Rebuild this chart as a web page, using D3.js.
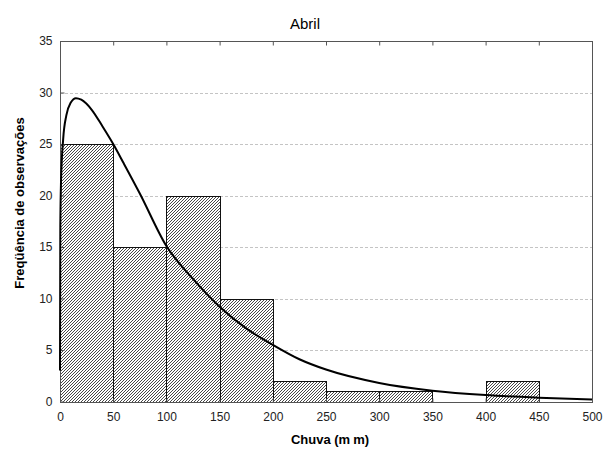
<!DOCTYPE html>
<html>
<head>
<meta charset="utf-8">
<script src="https://cdn.jsdelivr.net/npm/d3@7"></script>
<style>
  html, body { margin: 0; padding: 0; background: #fff; }
  svg { display: block; font-family: "Liberation Sans", Arial, sans-serif; }
</style>
</head>
<body>
<svg id="chart" width="605" height="449"></svg>
<script>
// Histogram bins (mm of rain) and observed counts
const binStarts = [0, 50, 100, 150, 200, 250, 300, 350, 400, 450];
const binWidth = 50;
const counts = [25, 15, 20, 10, 2, 1, 1, 0, 2, 0];

// Fitted distribution curve (expected frequency per bin)
const curveX = [0, 0.3, 1, 3, 6, 10, 15, 20, 30, 40, 50, 60, 75, 100, 125, 150, 175, 200, 225, 250, 300, 350, 400, 450, 500];
const curveY = [3, 17, 21.5, 25.5, 27.8, 29.0, 29.45, 29.3, 28.3, 26.7, 25.0, 23.1, 20.2, 15.1, 11.9, 9.2, 7.1, 5.5, 4.1, 3.1, 1.8, 1.05, 0.62, 0.37, 0.2];

// Axis ticks
const xTicks = [0, 50, 100, 150, 200, 250, 300, 350, 400, 450, 500];
const yTicks = [0, 5, 10, 15, 20, 25, 30, 35];

const titleText = "Abril";
const xLabelParts = ["Chuva (m", "m)"];
const yLabel = "Freqüência de observações";

const svg = d3.select("#chart");
const plotL = 60, plotR = 592, plotT = 41, plotB = 401.5;

const x = d3.scaleLinear().domain([0, 500]).range([plotL, plotR]);
const y = d3.scaleLinear().domain([0, 35]).range([plotB, plotT]);

// Horizontal dotted grid
svg.append("g")
  .selectAll("line")
  .data(yTicks.filter(d => d > 0 && d < 35))
  .join("line")
  .attr("x1", plotL).attr("x2", plotR)
  .attr("y1", d => Math.round(y(d)) + 0.5)
  .attr("y2", d => Math.round(y(d)) + 0.5)
  .attr("stroke", "#c4c4c4")
  .attr("stroke-dasharray", "3,2")
  .attr("stroke-width", 1);

// Bars: white box, "/" hatch lines clipped to the box, then outline
const bins = binStarts.map((s, i) => ({ i, x0: s, x1: s + binWidth, n: counts[i] }))
  .filter(d => d.n > 0)
  .map(d => {
    const bx = Math.round(x(d.x0)) + 0.5, by = Math.round(y(d.n)) + 0.5;
    const bw = Math.round(x(d.x1)) - Math.round(x(d.x0));
    const bh = Math.round(y(0)) - Math.round(y(d.n));
    return { ...d, bx, by, bw, bh };
  });

const defs = svg.append("defs");
defs.selectAll("clipPath")
  .data(bins)
  .join("clipPath")
  .attr("id", d => "bar-clip-" + d.i)
  .append("rect")
  .attr("x", d => d.bx).attr("y", d => d.by)
  .attr("width", d => d.bw).attr("height", d => d.bh);

const spacing = 3;
function hatchPath(d) {
  const x0 = Math.floor(d.bx), y0 = Math.floor(d.by);
  const w = d.bw + 2, h = d.bh + 2;
  let p = "";
  for (let s = -h; s < w + spacing; s += spacing) {
    // from bottom-left to top-right
    p += `M${x0 + s},${y0 + h}L${x0 + s + h},${y0}`;
  }
  return p;
}

const barG = svg.append("g");
const bar = barG.selectAll("g").data(bins).join("g");
bar.append("rect")
  .attr("x", d => d.bx).attr("y", d => d.by)
  .attr("width", d => d.bw).attr("height", d => d.bh)
  .attr("fill", "#fff");
bar.append("path")
  .attr("clip-path", d => `url(#bar-clip-${d.i})`)
  .attr("d", hatchPath)
  .attr("stroke", "#333")
  .attr("stroke-width", 0.9)
  .attr("fill", "none");
bar.append("rect")
  .attr("x", d => d.bx).attr("y", d => d.by)
  .attr("width", d => d.bw).attr("height", d => d.bh)
  .attr("fill", "none")
  .attr("stroke", "#111")
  .attr("stroke-width", 1);

// Plot frame
svg.append("rect")
  .attr("x", plotL + 0.5).attr("y", plotT + 0.5)
  .attr("width", plotR - plotL).attr("height", Math.round(plotB) - plotT)
  .attr("fill", "none")
  .attr("stroke", "#555")
  .attr("stroke-width", 1);

// Bottom axis with labels (inward ticks)
const xAxis = d3.axisBottom(x).tickValues(xTicks).tickSize(-4).tickPadding(10).tickFormat(d3.format("d"));
const gx = svg.append("g").attr("transform", `translate(0,${Math.round(plotB) + 0.5})`).call(xAxis);
// Top axis ticks only
const xAxisTop = d3.axisTop(x).tickValues(xTicks).tickSize(-4).tickFormat("");
const gxt = svg.append("g").attr("transform", `translate(0,${plotT + 0.5})`).call(xAxisTop);
// Left axis with labels
const yAxis = d3.axisLeft(y).tickValues(yTicks).tickSize(-4).tickPadding(8).tickFormat(d3.format("d"));
const gy = svg.append("g").attr("transform", `translate(${plotL + 0.5},0)`).call(yAxis);

[gx, gxt, gy].forEach(g => {
  g.select(".domain").remove();
  g.selectAll(".tick line").attr("stroke", "#555");
  g.selectAll(".tick text")
    .attr("fill", "#222")
    .style("font-size", "12px")
    .style("font-family", "'Liberation Sans', Arial, sans-serif");
});

// Fitted curve
const pts = curveX.map((v, i) => [v, curveY[i]]);
svg.append("path")
  .datum(pts)
  .attr("fill", "none")
  .attr("stroke", "#000")
  .attr("stroke-width", 2)
  .attr("d", d3.line().x(d => x(d[0])).y(d => y(d[1])).curve(d3.curveMonotoneX));

// Title and axis labels
svg.append("text")
  .attr("x", 305).attr("y", 29)
  .attr("text-anchor", "middle")
  .style("font-size", "15px")
  .attr("fill", "#000")
  .text(titleText);

const xl = svg.append("text")
  .attr("x", 330).attr("y", 444)
  .attr("text-anchor", "middle")
  .style("font-size", "13px")
  .style("font-weight", "bold")
  .attr("fill", "#000");
xl.append("tspan").text(xLabelParts[0]);
xl.append("tspan").attr("dx", 3).text(xLabelParts[1]);

svg.append("text")
  .attr("transform", "translate(24,203) rotate(-90)")
  .attr("text-anchor", "middle")
  .style("font-size", "13px")
  .style("font-weight", "bold")
  .attr("fill", "#000")
  .text(yLabel);
</script>
</body>
</html>
